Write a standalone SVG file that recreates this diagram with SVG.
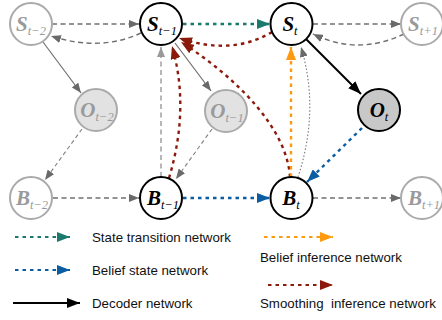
<svg xmlns="http://www.w3.org/2000/svg" width="442" height="320" viewBox="0 0 442 320">
<style>
.n circle{stroke-width:2}
.act circle{fill:#fff;stroke:#000}
.gry circle{fill:#fff;stroke:#aaa}
.obs circle{fill:#e2e2e2;stroke:#aaa}
.obt circle{fill:#c8c8c8;stroke:#000}
.lbl{font-family:"Liberation Serif",serif;font-style:italic;font-weight:bold;font-size:21px;text-anchor:middle}
.sub{font-size:12.5px;font-weight:normal}
.gry .lbl,.obs .lbl{fill:#9a9a9a}
.gd{fill:none;stroke:#707070;stroke-width:1.4;stroke-dasharray:5 3.5}
.gt{fill:none;stroke:#808080;stroke-width:1.1;stroke-dasharray:4 3}
.gs{fill:none;stroke:#707070;stroke-width:1.2}
.teal{fill:none;stroke:#1b7a6e;stroke-width:2.4;stroke-dasharray:3.5 4}
.blue{fill:none;stroke:#0b5da3;stroke-width:2.4;stroke-dasharray:3.5 4}
.red{fill:none;stroke:#8c1a0c;stroke-width:2.4;stroke-dasharray:3.5 4}
.org{fill:none;stroke:#ff9a0f;stroke-width:2.4;stroke-dasharray:3.5 4}
.blk{fill:none;stroke:#000;stroke-width:2}
.leg{font-family:"Liberation Sans",Arial,sans-serif;font-size:13.3px;fill:#111;white-space:pre}
</style>
<defs>
<marker id="ag" markerUnits="userSpaceOnUse" markerWidth="10" markerHeight="8" refX="10" refY="4" orient="auto"><path d="M0,0 L10,4 L0,8 z" fill="#6a6a6a"/></marker>
<marker id="ag2" markerUnits="userSpaceOnUse" markerWidth="10" markerHeight="8" refX="10" refY="4" orient="auto"><path d="M0,0 L10,4 L0,8 z" fill="#999"/></marker>
<marker id="at" markerUnits="userSpaceOnUse" markerWidth="13" markerHeight="10" refX="13" refY="5" orient="auto"><path d="M0,0 L13,5 L0,10 z" fill="#1b7a6e"/></marker>
<marker id="ab" markerUnits="userSpaceOnUse" markerWidth="13" markerHeight="10" refX="13" refY="5" orient="auto"><path d="M0,0 L13,5 L0,10 z" fill="#0b5da3"/></marker>
<marker id="ar" markerUnits="userSpaceOnUse" markerWidth="13" markerHeight="10" refX="13" refY="5" orient="auto"><path d="M0,0 L13,5 L0,10 z" fill="#8c1a0c"/></marker>
<marker id="ao" markerUnits="userSpaceOnUse" markerWidth="13" markerHeight="10" refX="13" refY="5" orient="auto"><path d="M0,0 L13,5 L0,10 z" fill="#ff9a0f"/></marker>
<marker id="ak" markerUnits="userSpaceOnUse" markerWidth="13" markerHeight="10" refX="13" refY="5" orient="auto"><path d="M0,0 L13,5 L0,10 z" fill="#000"/></marker>
</defs>

<g id="connectors">
<path class="gd" d="M52,24 L139,24" marker-end="url(#ag)"/>
<path class="gd" d="M141,33 Q100,52 51,36" marker-end="url(#ag)"/>
<path class="teal" d="M183,24 L270,24" marker-end="url(#at)"/>
<path class="red" d="M272,32 Q232,56 179,38" marker-end="url(#ar)"/>
<path class="gd" d="M313,24 L401,24" marker-end="url(#ag)"/>
<path class="gd" d="M404,34 Q358,56 313,34" marker-end="url(#ag)"/>
<path class="blk" d="M306,39 L361,94" marker-end="url(#ak)"/>
<path class="gs" d="M43,42 L81,93" marker-end="url(#ag)"/>
<path class="gs" d="M175,43 L211,91" marker-end="url(#ag)"/>
<path class="gt" d="M82,129 L45,180" marker-end="url(#ag)"/>
<path class="gt" d="M212,129 L176,179" marker-end="url(#ag)"/>
<path class="blue" d="M362,128 L307,182" marker-end="url(#ab)"/>
<path class="gd" d="M53,198 L139,198" marker-end="url(#ag)"/>
<path class="blue" d="M183,198 L270,198" marker-end="url(#ab)"/>
<path class="gd" d="M313,198 L401,198" marker-end="url(#ag)"/>
<path class="gd" style="stroke:#999" d="M161,177 L161,47" marker-end="url(#ag2)"/>
<path class="red" d="M169,178 Q190,108 172,46" marker-end="url(#ar)"/>
<path class="red" d="M290,177 C287,130 240,80 181,42" marker-end="url(#ar)"/>
<path class="org" d="M291,177 L291,47" marker-end="url(#ao)"/>
<path class="gt" style="stroke-dasharray:1.5 2;stroke:#777" d="M298,177 Q320,110 301,47" marker-end="url(#ag)"/>
</g>

<g id="S_tm2" class="n gry"><circle cx="31" cy="24" r="21"/><text class="lbl" x="31" y="31">S<tspan class="sub" dy="4">t−2</tspan></text></g>
<g id="S_tm1" class="n act"><circle cx="161" cy="24" r="21"/><text class="lbl" x="162" y="31">S<tspan class="sub" dy="4">t−1</tspan></text></g>
<g id="S_t" class="n act"><circle cx="291.5" cy="24" r="21"/><text class="lbl" x="290" y="31">S<tspan class="sub" dy="4">t</tspan></text></g>
<g id="S_tp1" class="n gry"><circle cx="422" cy="24" r="21"/><text class="lbl" x="423" y="31">S<tspan class="sub" dy="4">t+1</tspan></text></g>
<g id="O_tm2" class="n obs"><circle cx="96" cy="110" r="21"/><text class="lbl" x="97" y="117">O<tspan class="sub" dy="4">t−2</tspan></text></g>
<g id="O_tm1" class="n obs"><circle cx="226" cy="111" r="21"/><text class="lbl" x="227" y="118">O<tspan class="sub" dy="4">t−1</tspan></text></g>
<g id="O_t" class="n obt"><circle cx="379" cy="110" r="21"/><text class="lbl" x="379" y="117">O<tspan class="sub" dy="4">t</tspan></text></g>
<g id="B_tm2" class="n gry"><circle cx="31" cy="198" r="21"/><text class="lbl" x="32" y="205">B<tspan class="sub" dy="4">t−2</tspan></text></g>
<g id="B_tm1" class="n act"><circle cx="161" cy="198" r="21"/><text class="lbl" x="163" y="205">B<tspan class="sub" dy="4">t−1</tspan></text></g>
<g id="B_t" class="n act"><circle cx="291.5" cy="198" r="21"/><text class="lbl" x="291" y="205">B<tspan class="sub" dy="4">t</tspan></text></g>
<g id="B_tp1" class="n gry"><circle cx="422" cy="198" r="21"/><text class="lbl" x="424" y="205">B<tspan class="sub" dy="4">t+1</tspan></text></g>

<g id="legend">
<path class="teal" d="M15,237 L70,237" marker-end="url(#at)" style="stroke-width:2"/>
<text class="leg" x="92" y="241.5">State transition network</text>
<path class="blue" d="M15,270 L70,270" marker-end="url(#ab)" style="stroke-width:2"/>
<text class="leg" x="92" y="274.5">Belief state network</text>
<path class="blk" d="M13,303 L80,303" marker-end="url(#ak)"/>
<text class="leg" x="92" y="307.5">Decoder network</text>
<path class="org" d="M264,237 L333,237" marker-end="url(#ao)" style="stroke-width:2"/>
<text class="leg" x="260" y="262">Belief inference network</text>
<path class="red" d="M268,285 L333,285" marker-end="url(#ar)" style="stroke-width:2"/>
<text class="leg" x="260" y="307.5" xml:space="preserve">Smoothing  inference network</text>
</g>
</svg>
